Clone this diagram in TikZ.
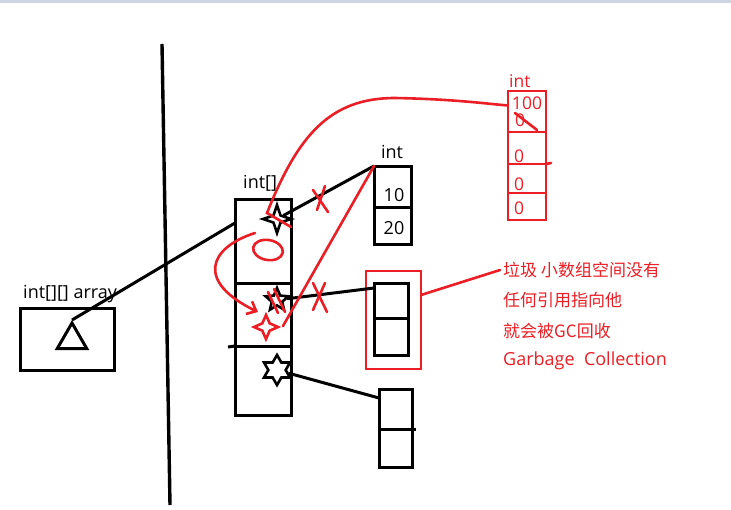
\documentclass[tikz,border=0pt]{standalone}
\usepackage{fontspec}
\setmainfont{Open Sans}
\newfontfamily\cjk{Noto Sans CJK SC}
\usetikzlibrary{shapes.geometric,arrows.meta}
\definecolor{penred}{RGB}{234,30,36}
\definecolor{barblue}{RGB}{206,214,228}
\tikzset{
  cell/.style={draw, line width=3pt, inner sep=0pt, outer sep=0pt},
  redcell/.style={draw=penred, line width=2.8pt, inner sep=0pt, outer sep=0pt},
  wire/.style={line width=3pt},
  redwire/.style={draw=penred, line width=2.6pt, line cap=round},
  lbl/.style={font=\fontsize{18}{20}\selectfont, inner sep=0pt},
  num/.style={font=\fontsize{18}{20}\selectfont, inner sep=0pt},
  rednum/.style={text=penred, font=\fontsize{17.5}{19}\selectfont, inner sep=0pt},
  note/.style={text=penred, font=\cjk\fontsize{17}{19}\selectfont, anchor=west, inner sep=0pt},
  starmark/.style={draw, line width=2.6pt, inner sep=0pt, outer sep=1pt}
}
\begin{document}
\begin{tikzpicture}[x=1pt,y=-1pt]
\useasboundingbox (0,0) rectangle (731,509);
\fill[barblue] (0,0) rectangle (731,3);

% stack | heap
\draw[line width=3.4pt] (162,44) -- (170,505);

% int[][] array on the stack
\node[cell, minimum width=94pt, minimum height=62pt] (arr) at (67,339) {};
\node[lbl, anchor=base west] at (23,298) {int[][] array};
\node[draw, line width=3pt, regular polygon, regular polygon sides=3, minimum size=34pt, inner sep=0pt] (tri) at (72,340) {};

% int[] column
\node[cell, minimum width=56pt, minimum height=84pt] (c1) at (263,241) {};
\node[cell, minimum width=56pt, minimum height=63pt] (c2) at (263,314.5) {};
\node[cell, minimum width=56pt, minimum height=69pt] (c3) at (263,380.5) {};
\node[lbl, anchor=base west] at (243,188) {int[]};
\draw[wire] (228,347) -- (c3.north west);
\coordinate (c1in) at (235,223);
\draw[wire] (tri.corner 1) -- (c1in);

% stars in the cells
\node[starmark, star, star points=4, star point ratio=2.8, minimum size=28pt] (s1) at (277,219) {};
\node[starmark, star, star points=5, star point ratio=2.2, minimum size=24pt] (s2) at (277,300) {};
\node[starmark, star, star points=6, star point ratio=1.73, minimum size=30pt] (s3) at (277,370) {};

% int boxes
\node[cell, minimum width=37pt, minimum height=41pt] (ia1) at (392.5,186.5) {};
\node[cell, minimum width=37pt, minimum height=37pt] (ia2) at (392.5,225.5) {};
\node[lbl] at (392,152) {int};
\node[num] at (394,195) {10};
\node[num] at (394,228) {20};

\node[cell, minimum width=34pt, minimum height=35pt] (mb1) at (391,300.5) {};
\node[cell, minimum width=34pt, minimum height=37pt] (mb2) at (391,336.5) {};
\node[redcell, minimum width=55pt, minimum height=98pt] (garbage) at (393.5,320) {};

\node[cell, minimum width=33pt, minimum height=40pt] (bb1) at (395.5,409) {};
\node[cell, minimum width=33pt, minimum height=38pt] (bb2) at (395.5,448) {};
\draw[wire] (bb2.north east) -- ++(4,0);

% references
\draw[wire] (s1) -- (ia1.north west);
\draw[wire] (s2) -- ([yshift=-5pt]mb1.north west);
\draw[wire] (s3) -- ([yshift=-9pt]bb1.north west);

% red int array
\node[redcell, minimum width=38pt, minimum height=41pt] (r1) at (527,111.5) {};
\node[redcell, minimum width=38pt, minimum height=32pt] (r2) at (527,148) {};
\node[redcell, minimum width=38pt, minimum height=29pt] (r3) at (527,178.5) {};
\node[redcell, minimum width=38pt, minimum height=27pt] (r4) at (527,206.5) {};
\node[rednum, anchor=base west] at (509,87) {int};
\node[rednum] at (527,103) {100};
\node[rednum] at (520,120) {0};
\node[rednum] at (519,156) {0};
\node[rednum] at (519,184) {0};
\node[rednum] at (519,208) {0};
\draw[redwire] (515,113) -- (537,130);
\draw[redwire] (r3.north east) -- ++(5,-1);

% red annotations
\draw[redwire] (291,227) -- (267,213) .. controls (298,135) and (330,98) .. (395,98)
  .. controls (450,99) and (480,103) .. ([yshift=6pt]r1.west);
\draw[redwire] (283,326) -- (ia1.north west);
\draw[redwire] (268,292) -- (278,313);
\draw[redwire] (274,289) -- (285,312);
\draw[redwire] (313,190) -- (328,212);
\draw[redwire] (325,186) -- (317,210);
\draw[redwire] (313,283) -- (327,312);
\draw[redwire] (325,283) -- (313,310);
\draw[redwire, rotate around={-10:(268,250)}] (268,250) ellipse [x radius=15, y radius=10];
\draw[redwire, -{Straight Barb[length=8pt,width=14pt]}] (255,233) .. controls (208,248) and (196,282) .. (258,312);
\node[starmark, draw=penred, star, star points=4, star point ratio=2.3, minimum size=24pt] (rs) at (266,327) {};

% note
\node[note] (n1) at (503,270) {垃圾 小数组空间没有};
\node[note] (n2) at (503,300) {任何引用指向他};
\node[note] (n3) at (503,331) {就会被GC回收};
\node[note, font=\fontsize{18}{20}\selectfont] (n4) at (503,361) {Garbage\ \ Collection};
\draw[redwire] ([yshift=25pt]garbage.east) -- ([xshift=-3pt]n1.west);
\end{tikzpicture}
\end{document}
